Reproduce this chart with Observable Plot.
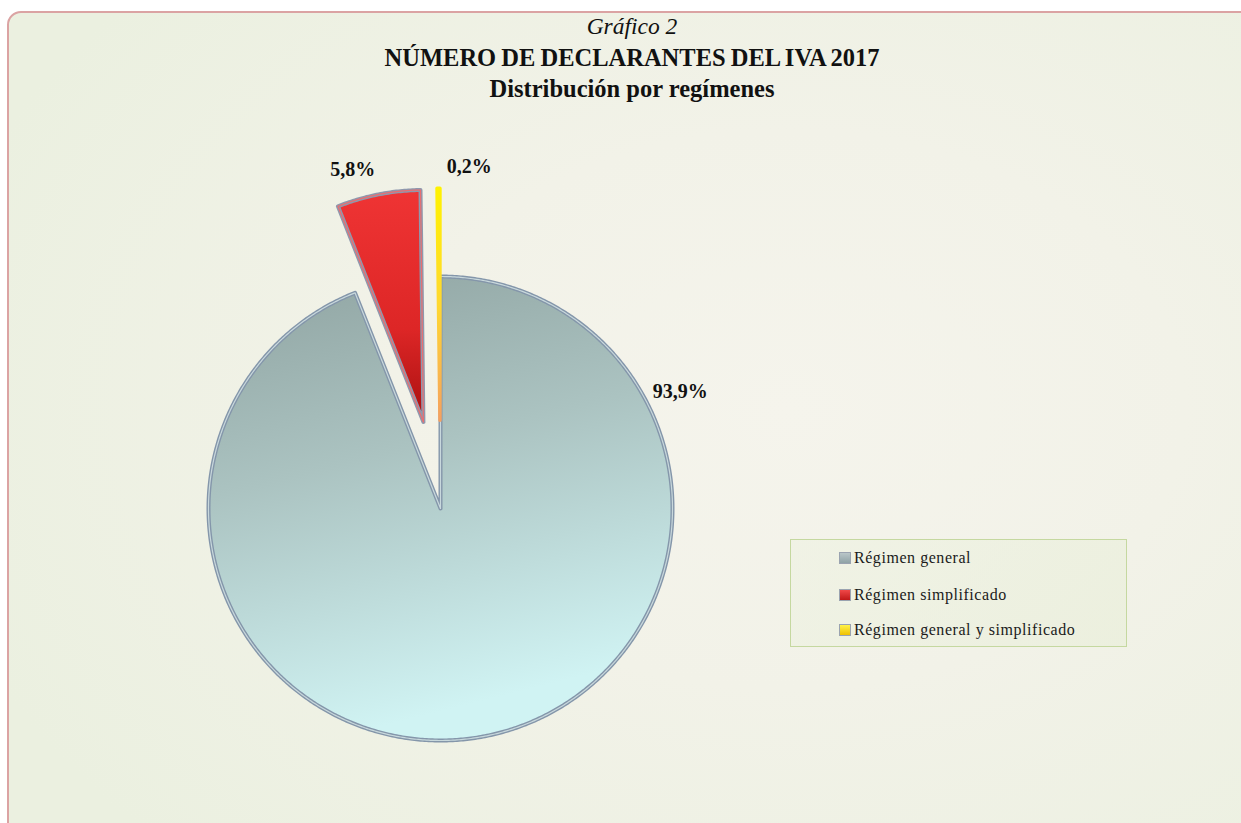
<!DOCTYPE html>
<html>
<head>
<meta charset="utf-8">
<script src="https://cdn.jsdelivr.net/npm/d3@7"></script>
<script src="https://cdn.jsdelivr.net/npm/@observablehq/plot@0.6"></script>
<style>
  html, body { margin: 0; padding: 0; background: #ffffff; width: 1241px; height: 823px; overflow: hidden; }
  #frame { position: absolute; left: 7px; top: 11px; width: 1260px; height: 830px;
    border: 2px solid #dba3a3; border-radius: 14px; box-sizing: border-box;
    background: radial-gradient(ellipse 70% 75% at 62% 48%, #f5f4ec 0%, #f2f2e8 45%, #ebf0e0 100%); }
  #title { position: absolute; left: 0; width: 1264px; top: 11px; text-align: center;
    font-family: "Liberation Serif", "Times New Roman", serif; line-height: 31px; color: #111; }
  #title .t1 { font-style: italic; font-size: 23.5px; }
  #title .t2, #title .t3 { font-weight: bold; font-size: 24.5px; }
  #title .t2 { word-spacing: -1px; }
  #chart { position: absolute; left: 0; top: 0; }
  #legend { position: absolute; left: 790px; top: 539px; width: 337px; height: 108px; box-sizing: border-box;
    border: 1px solid #c5d8a0; background: linear-gradient(135deg, rgba(238,242,226,0.6), rgba(232,238,216,0.6)); }
  .item { position: absolute; left: 48px; height: 20px; font-family: "Liberation Serif", "Times New Roman", serif;
    font-size: 16px; line-height: 20px; letter-spacing: 0.55px; color: #1a1a1a; white-space: nowrap; }
  .sw { display: inline-block; width: 12px; height: 12px; vertical-align: -1px; margin-right: 3px; border: 1px solid #9aa3b0; box-sizing: border-box; }
</style>
</head>
<body>
<div id="frame"></div>
<div id="chart"></div>
<div id="title">
  <div class="t1">Gráfico 2</div>
  <div class="t2">NÚMERO DE DECLARANTES DEL IVA 2017</div>
  <div class="t3">Distribución por regímenes</div>
</div>
<div id="legend"></div>
<script>
// ---- data ----
const categories = ["Régimen general", "Régimen simplificado", "Régimen general y simplificado"];
const shares = [93.9, 5.8, 0.2];

// ---- layout ----
const W = 1241, H = 823;
const R = 232, CX = 440, CY = 508;           // pie radius and centre in pixels
const explode = [0, 0.38, 0.38];            // explosion in radius units
const labelAt = [[64, 1.15], [345.5, 1.51], [4.8, 1.48]]; // label angle (deg), distance (radius units)
const fills = ["url(#gGen)", "url(#gSim)", "url(#gAmb)"];
const strokes = ["#8496aa", "#8f98ad", "url(#gAmb)"];
const strokeW = [4, 4, 3.5];
const inner = ["#cfdfe1", "#f26a6a", null];
const swatch = ["linear-gradient(#b9c6c8,#8fa3a6)", "linear-gradient(#f04848,#c01818)", "linear-gradient(#fff34a,#f0c000)"];

const total = d3.sum(shares);
const cum = d3.cumsum(shares);
const slices = shares.map((v, i) => {
  const a0 = (i === 0 ? 0 : cum[i - 1]) / total * 2 * Math.PI;
  const a1 = cum[i] / total * 2 * Math.PI;
  const mid = (a0 + a1) / 2;
  const ox = explode[i] * Math.sin(mid), oy = explode[i] * Math.cos(mid);
  const pts = [{x: ox, y: oy}];
  const n = Math.max(2, Math.ceil((a1 - a0) / (Math.PI / 360)));
  for (let k = 0; k <= n; k++) {
    const a = a0 + (a1 - a0) * k / n;
    pts.push({x: ox + Math.sin(a), y: oy + Math.cos(a)});
  }
  pts.push({x: ox, y: oy});
  return {category: categories[i], value: v, pts};
});

const labelData = shares.map((v, i) => {
  const a = labelAt[i][0] * Math.PI / 180, r = labelAt[i][1];
  return {x: r * Math.sin(a), y: r * Math.cos(a), text: v.toFixed(1).replace(".", ",") + "%"};
});

const marks = [];
slices.forEach((s, i) => {
  marks.push(Plot.line(s.pts, {x: "x", y: "y", fill: fills[i], stroke: strokes[i], strokeWidth: strokeW[i], strokeLinejoin: "round"}));
  if (inner[i]) marks.push(Plot.line(s.pts, {x: "x", y: "y", fill: "none", stroke: inner[i], strokeWidth: 1.2, strokeOpacity: 0.9, strokeLinejoin: "round"}));
});
marks.push(Plot.text(labelData, {x: "x", y: "y", text: "text", fontSize: 20, fontWeight: "bold",
  fontFamily: "Liberation Serif, Times New Roman, serif", fill: "#111"}));

const plot = Plot.plot({
  width: W, height: H, margin: 0,
  style: {background: "transparent", overflow: "visible"},
  x: {domain: [-CX / R, (W - CX) / R], range: [0, W], axis: null},
  y: {domain: [(CY - H) / R, CY / R], range: [H, 0], axis: null},
  marks
});
plot.style.background = "transparent";

const ns = "http://www.w3.org/2000/svg";
const defs = document.createElementNS(ns, "defs");
function grad(id, stops, x2 = "0", y2 = "1") {
  const g = document.createElementNS(ns, "linearGradient");
  g.setAttribute("id", id);
  g.setAttribute("x1", "0"); g.setAttribute("y1", "0");
  g.setAttribute("x2", x2); g.setAttribute("y2", y2);
  stops.forEach(([o, c]) => {
    const s = document.createElementNS(ns, "stop");
    s.setAttribute("offset", o); s.setAttribute("stop-color", c);
    g.appendChild(s);
  });
  defs.appendChild(g);
}
grad("gGen", [["0", "#8fa3a1"], ["0.45", "#abc3c1"], ["1", "#d0f3f3"]], "0.25", "1");
grad("gSim", [["0", "#ef3434"], ["0.6", "#dd2626"], ["1", "#a81010"]]);
grad("gAmb", [["0", "#fff200"], ["0.5", "#ffd830"], ["1", "#f5a060"]]);
plot.insertBefore(defs, plot.firstChild);
document.getElementById("chart").appendChild(plot);

// legend
const legend = document.getElementById("legend");
const rowY = [8, 45, 80];
categories.forEach((c, i) => {
  const d = document.createElement("div");
  d.className = "item";
  d.style.top = rowY[i] + "px";
  d.innerHTML = `<span class="sw" style="background:${swatch[i]}"></span>${c}`;
  legend.appendChild(d);
});
</script>
</body>
</html>
